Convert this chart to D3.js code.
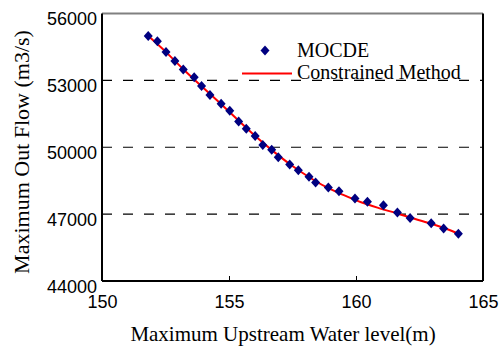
<!DOCTYPE html>
<html>
  <head>
    <script src="https://d3js.org/d3.v7.min.js"></script>
    <style>
      html, body { margin: 0; padding: 0; background: #fff; overflow: hidden; }
      .tick-label { font-family: "Liberation Sans", Arial, sans-serif; font-size: 18px; fill: #000; }
      .title { font-family: "Liberation Serif", "Times New Roman", serif; fill: #000; }
    </style>
  </head>
  <body>
    <div id="chart"></div>
    <script>
      // MOCDE points (x = upstream level, y = out flow)
      const mocdeLevel = [151.82, 152.18, 152.52, 152.87, 153.20, 153.63, 153.92, 154.25, 154.69, 155.03,
                          155.38, 155.68, 156.03, 156.33, 156.68, 156.94, 157.39, 157.73, 158.15, 158.41,
                          158.91, 159.33, 159.96, 160.45, 161.08, 161.63, 162.13, 162.96, 163.45, 164.03];
      const mocdeFlow = [54990, 54750, 54270, 53870, 53490, 53140, 52750, 52340, 51950, 51640,
                         51160, 50830, 50500, 50100, 49890, 49550, 49230, 48970, 48680, 48420,
                         48190, 48030, 47700, 47550, 47400, 47070, 46830, 46590, 46350, 46120];
      // Constrained method curve
      const constrainedLevel = [151.82, 152.5, 153.2, 153.9, 154.6, 155.3, 156.0, 156.7, 157.4, 158.1,
                                158.8, 159.5, 160.2, 160.9, 161.6, 162.3, 163.0, 163.6, 164.03];
      const constrainedFlow = [54990, 54290, 53500, 52760, 52030, 51280, 50540, 49860, 49240, 48700,
                               48230, 47860, 47530, 47270, 47040, 46790, 46560, 46320, 46120];
      const xTicks = [150, 155, 160, 165];
      const yTicks = [44000, 47000, 50000, 53000, 56000];
      const gridValues = [47000, 50000, 53000];

      const width = 501, height = 347;
      const margin = { top: 13.5, right: 18, bottom: 66, left: 102 };

      const svg = d3.select("#chart").append("svg")
        .attr("width", width)
        .attr("height", height);

      const x = d3.scaleLinear().domain([150, 165]).range([margin.left, width - margin.right]);
      const y = d3.scaleLinear().domain([44000, 56000]).range([height - margin.bottom, margin.top]);

      // dashed grid
      svg.append("g")
        .selectAll("line")
        .data(gridValues)
        .join("line")
        .attr("x1", x(150)).attr("x2", x(165))
        .attr("y1", d => y(d)).attr("y2", d => y(d))
        .attr("stroke", "#000")
        .attr("stroke-width", 1.2)
        .attr("stroke-dasharray", "10,11");

      // axes with inward ticks
      const xAxis = svg.append("g")
        .attr("transform", `translate(0,${y(44000)})`)
        .call(d3.axisBottom(x).tickValues(xTicks).tickSize(-5).tickPadding(14).tickFormat(d3.format("d")));
      xAxis.select(".domain").remove();
      xAxis.selectAll(".tick line").attr("stroke", "#000");
      xAxis.selectAll(".tick text").attr("class", "tick-label").attr("dy", "0.71em");

      const yAxis = svg.append("g")
        .attr("transform", `translate(${x(150)},0)`)
        .call(d3.axisLeft(y).tickValues(yTicks).tickSize(0).tickPadding(5).tickFormat(d3.format("d")));
      yAxis.select(".domain").remove();
      yAxis.selectAll(".tick text").attr("class", "tick-label").attr("dy", "0.62em");

      // frame
      svg.append("line")
        .attr("x1", x(150)).attr("x2", x(165)).attr("y1", y(56000)).attr("y2", y(56000))
        .attr("stroke", "#808080").attr("stroke-width", 2);
      svg.append("line")
        .attr("x1", x(165)).attr("x2", x(165)).attr("y1", y(56000)).attr("y2", y(44000))
        .attr("stroke", "#000").attr("stroke-width", 2);
      svg.append("line")
        .attr("x1", x(150)).attr("x2", x(165)).attr("y1", y(44000)).attr("y2", y(44000))
        .attr("stroke", "#000").attr("stroke-width", 2);
      svg.append("line")
        .attr("x1", x(150)).attr("x2", x(150)).attr("y1", y(56000)).attr("y2", y(44000))
        .attr("stroke", "#000").attr("stroke-width", 2);

      // constrained method line
      const lineData = constrainedLevel.map((d, i) => [d, constrainedFlow[i]]);
      svg.append("path")
        .datum(lineData)
        .attr("fill", "none")
        .attr("stroke", "#ff0000")
        .attr("stroke-width", 2)
        .attr("d", d3.line().x(d => x(d[0])).y(d => y(d[1])).curve(d3.curveMonotoneX));

      // MOCDE diamonds
      const diamond = "M0,-5L4.5,0L0,5L-4.5,0Z";
      svg.append("g")
        .selectAll("path")
        .data(mocdeLevel.map((d, i) => [d, mocdeFlow[i]]))
        .join("path")
        .attr("d", diamond)
        .attr("transform", d => `translate(${x(d[0])},${y(d[1])})`)
        .attr("fill", "#000080");

      // legend
      const legend = svg.append("g");
      legend.append("path")
        .attr("d", diamond)
        .attr("transform", "translate(265,50.5)")
        .attr("fill", "#000080");
      legend.append("text")
        .attr("class", "title")
        .attr("x", 297).attr("y", 57)
        .attr("font-size", 20)
        .text("MOCDE");
      legend.append("line")
        .attr("x1", 242).attr("x2", 292).attr("y1", 73.5).attr("y2", 73.5)
        .attr("stroke", "#ff0000").attr("stroke-width", 2);
      legend.append("text")
        .attr("class", "title")
        .attr("x", 297).attr("y", 79)
        .attr("font-size", 20)
        .text("Constrained Method");

      // axis titles
      svg.append("text")
        .attr("class", "title")
        .attr("x", 283).attr("y", 341)
        .attr("text-anchor", "middle")
        .attr("font-size", 21)
        .text("Maximum Upstream Water level(m)");
      svg.append("text")
        .attr("class", "title")
        .attr("transform", "translate(29,152) rotate(-90)")
        .attr("text-anchor", "middle")
        .attr("font-size", 22)
        .text("Maximum Out Flow (m3/s)");
    </script>
  </body>
</html>
